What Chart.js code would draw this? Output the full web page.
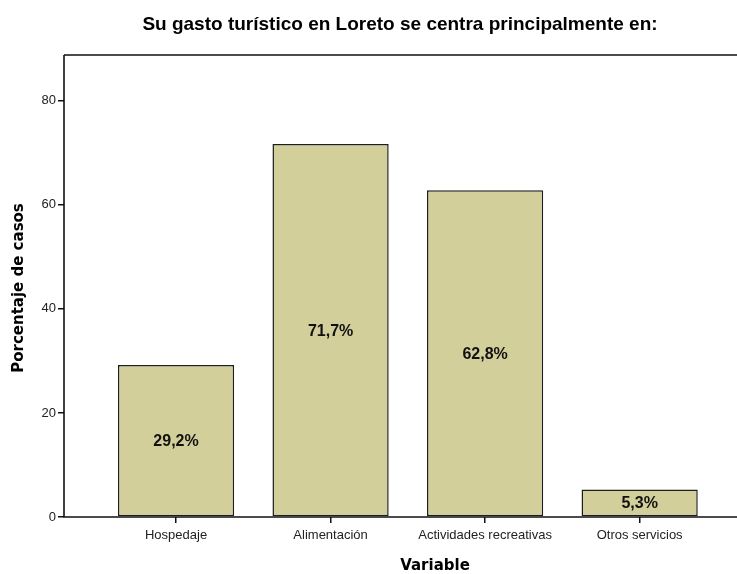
<!DOCTYPE html>
<html>
<head>
<meta charset="utf-8">
<script src="https://cdn.jsdelivr.net/npm/chart.js"></script>
<style>
  html, body { margin: 0; padding: 0; background: #fff; }
  #wrap { width: 737px; height: 574px; position: relative; }
</style>
</head>
<body>
<div id="wrap"><canvas id="gasto"></canvas></div>
<script>
var TITLE = "Su gasto turístico en Loreto se centra principalmente en:";
var CATEGORIAS = ["Hospedaje", "Alimentación", "Actividades recreativas", "Otros servicios"];
var PORCENTAJES = [29.2, 71.7, 62.8, 5.3];
var Y_TICKS = [0, 20, 40, 60, 80];

var FILL = "#d3cf9b";
var EDGE = "#1e1e1e";

function fmt(v) {
  return v.toFixed(1).replace(".", ",") + "%";
}

// frame, headings and the value text inside each bar
var decor = {
  id: "decor",
  afterDatasetsDraw: function (chart) {
    var ctx = chart.ctx;
    var a = chart.chartArea;
    ctx.save();
    ctx.fillStyle = "#111";
    ctx.textAlign = "center";
    ctx.textBaseline = "middle";
    ctx.font = "bold 16px 'Liberation Sans', Arial, sans-serif";
    var meta = chart.getDatasetMeta(0);
    meta.data.forEach(function (bar, i) {
      ctx.fillText(fmt(PORCENTAJES[i]), bar.x, (bar.y + bar.base) / 2 + 1);
    });

    ctx.strokeStyle = "#111";
    ctx.lineWidth = 1.6;
    ctx.beginPath();
    ctx.moveTo(a.left, a.top);
    ctx.lineTo(a.right, a.top);
    ctx.moveTo(a.left, a.top);
    ctx.lineTo(a.left, a.bottom);
    ctx.lineTo(a.right, a.bottom);
    ctx.stroke();

    ctx.fillStyle = "#000";
    ctx.font = "bold 19px 'Liberation Sans', Arial, sans-serif";
    ctx.fillText(TITLE, 400, 25);
    ctx.font = "bold 15px 'DejaVu Sans', Verdana, sans-serif";
    ctx.fillText("Variable", 435, 566);
    ctx.translate(19, 288);
    ctx.rotate(-Math.PI / 2);
    ctx.fillText("Porcentaje de casos", 0, 0);
    ctx.restore();
  }
};

new Chart(document.getElementById("gasto"), {
  type: "bar",
  data: {
    datasets: [{
      data: PORCENTAJES.map(function (v, i) { return { x: i, y: v }; }),
      backgroundColor: FILL,
      borderColor: EDGE,
      borderWidth: 1.5,
      borderSkipped: false,
      categoryPercentage: 1,
      barPercentage: 0.752
    }]
  },
  options: {
    responsive: true,
    maintainAspectRatio: false,
    animation: false,
    layout: { padding: { top: 55, right: 0, left: 0, bottom: 0 } },
    plugins: { legend: { display: false }, tooltip: { enabled: false }, title: { display: false } },
    scales: {
      x: {
        type: "linear",
        offset: false,
        min: -0.725,
        max: 3.63,
        afterBuildTicks: function (s) {
          s.ticks = CATEGORIAS.map(function (_, i) { return { value: i }; });
        },
        afterFit: function (s) { s.height = 57; },
        ticks: {
          autoSkip: false,
          maxRotation: 0,
          padding: 5,
          color: "#222",
          font: { family: "'Liberation Sans', Arial, sans-serif", size: 13 },
          callback: function (v) { return CATEGORIAS[v]; }
        },
        grid: { offset: false, drawOnChartArea: false, drawTicks: true, tickLength: 6, color: "#111", lineWidth: 1.5 },
        border: { display: false }
      },
      y: {
        min: 0,
        max: 88.8,
        afterBuildTicks: function (s) {
          s.ticks = Y_TICKS.map(function (v) { return { value: v }; });
        },
        afterFit: function (s) { s.width = 64; },
        ticks: {
          padding: 2,
          color: "#222",
          font: { family: "'Liberation Sans', Arial, sans-serif", size: 13 }
        },
        grid: { drawOnChartArea: false, drawTicks: true, tickLength: 6, color: "#111", lineWidth: 1.5 },
        border: { display: false }
      }
    }
  },
  plugins: [decor]
});
</script>
</body>
</html>
